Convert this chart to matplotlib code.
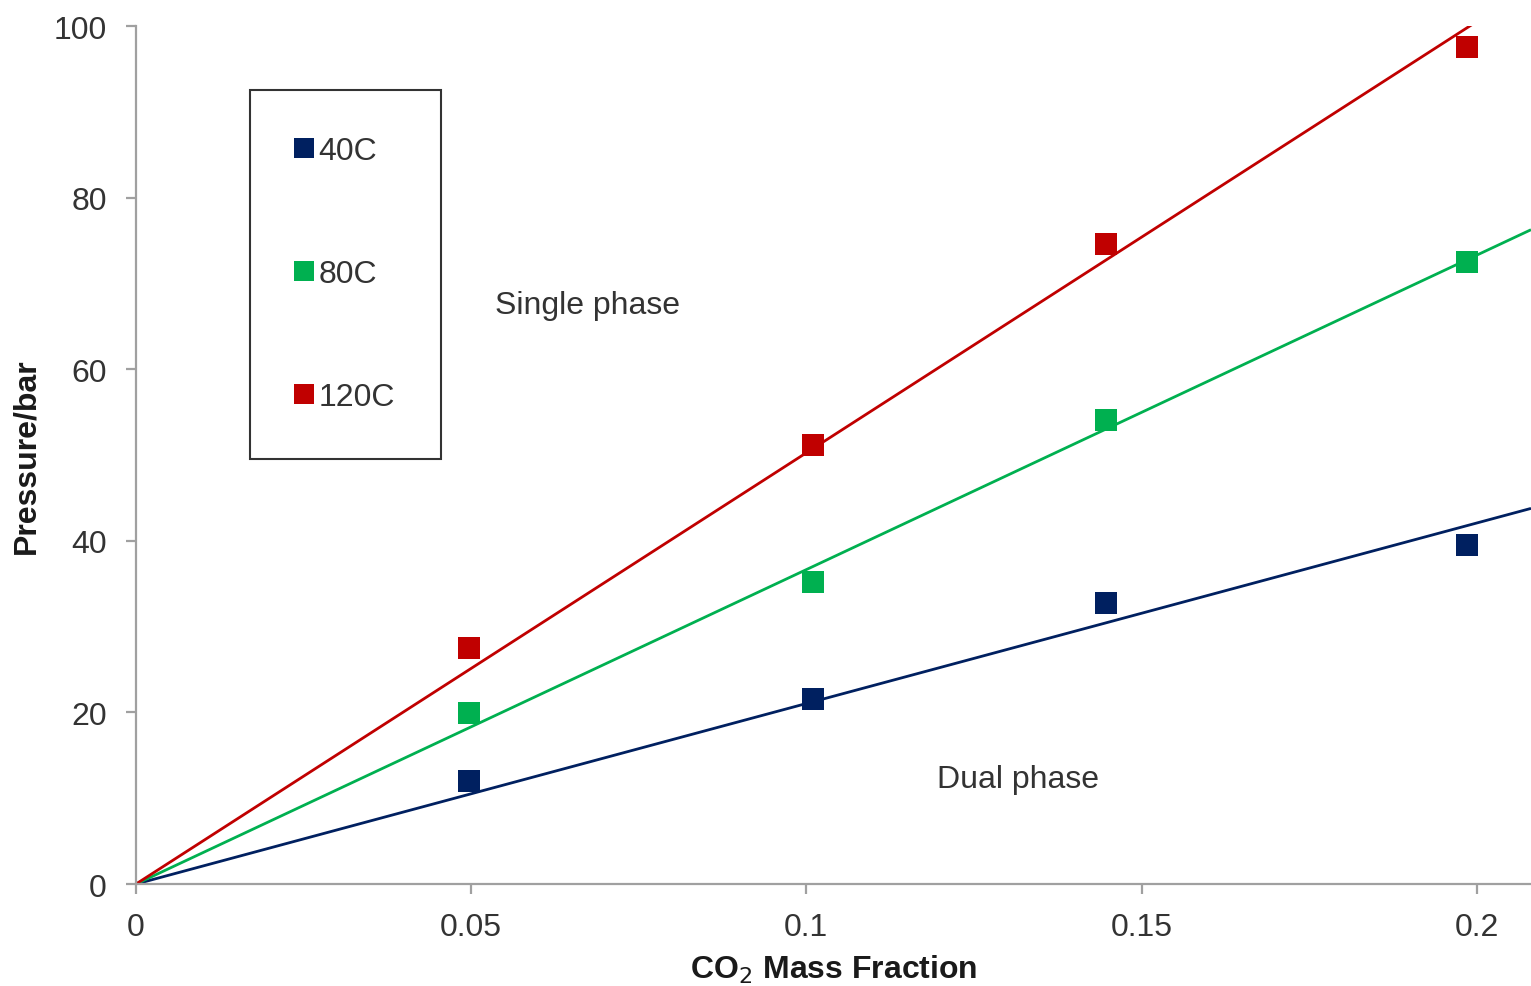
import numpy as np
import matplotlib
matplotlib.use("Agg")
import matplotlib.pyplot as plt
from matplotlib.lines import Line2D

plt.rcParams['font.family'] = ['Liberation Sans', 'DejaVu Sans']

# CO2 mass fraction of each sample
co2_fraction = [0.0497, 0.101, 0.1447, 0.1986]

# Measured bubble-point pressure (bar) at each temperature
series_names = ["40C", "80C", "120C"]
pressure_40 = [12.0, 21.6, 32.8, 39.5]
pressure_80 = [19.9, 35.2, 54.1, 72.5]
pressure_120 = [27.5, 51.2, 74.6, 97.6]
series_colors = ["#002060", "#00B050", "#C00000"]

x_ticks = [0, 0.05, 0.1, 0.15, 0.2]
x_tick_labels = ["0", "0.05", "0.1", "0.15", "0.2"]
y_ticks = [0, 20, 40, 60, 80, 100]

FS = 23

fig = plt.figure(figsize=(15.31, 9.87), dpi=100)
ax = fig.add_axes([0.0888, 0.1033, 0.9112, 0.8693])

x = np.array(co2_fraction)
x_max = 0.2081
handles = []
for name, p, c in zip(series_names, [pressure_40, pressure_80, pressure_120], series_colors):
    p = np.array(p)
    # linear trend forced through the origin
    slope = np.sum(x * p) / np.sum(x * x)
    xl = np.array([0.0, x_max])
    ax.plot(xl, slope * xl, color=c, lw=2.0, zorder=2, solid_capstyle='butt')
    ax.plot(x, p, linestyle='none', marker='s', markersize=15.5, color=c,
            markeredgewidth=0, zorder=3)
    handles.append(Line2D([], [], linestyle='none', marker='s', markersize=14.5,
                          color=c, markeredgewidth=0, label=name))

ax.set_xlim(0, x_max)
ax.set_ylim(0, 100)
ax.set_xticks(x_ticks)
ax.set_xticklabels(x_tick_labels)
ax.set_yticks(y_ticks)

for s in ["top", "right"]:
    ax.spines[s].set_visible(False)
for s in ["left", "bottom"]:
    ax.spines[s].set_color("#A0A0A0")
    ax.spines[s].set_linewidth(1.6)

ax.tick_params(axis='both', direction='out', length=7, width=1.6, color="#A0A0A0",
               labelsize=FS, labelcolor="#333333")
ax.tick_params(axis='y', pad=14)
ax.tick_params(axis='x', pad=13)

ax.set_xlabel("CO$_2$ Mass Fraction", fontsize=FS, fontweight='bold', color="#1a1a1a",
              labelpad=8)
ax.set_ylabel("Pressure/bar", fontsize=FS, fontweight='bold', color="#1a1a1a",
              labelpad=9)

ax.text(0.0535, 67.5, "Single phase", fontsize=FS, color="#333333", va='center', ha='left')
ax.text(0.1195, 12.3, "Dual phase", fontsize=FS, color="#333333", va='center', ha='left')

leg = ax.legend(handles=handles, loc='upper left', bbox_to_anchor=(0.0817, 0.926),
                bbox_transform=ax.transAxes, fontsize=FS, frameon=True, fancybox=False,
                borderpad=1.45, labelspacing=2.92, handlelength=0.5, handletextpad=0.2,
                borderaxespad=0)
leg.get_frame().set_edgecolor("black")
leg.get_frame().set_linewidth(1.5)
for t in leg.get_texts():
    t.set_color("#333333")

fig.savefig("out.png", dpi=100)
